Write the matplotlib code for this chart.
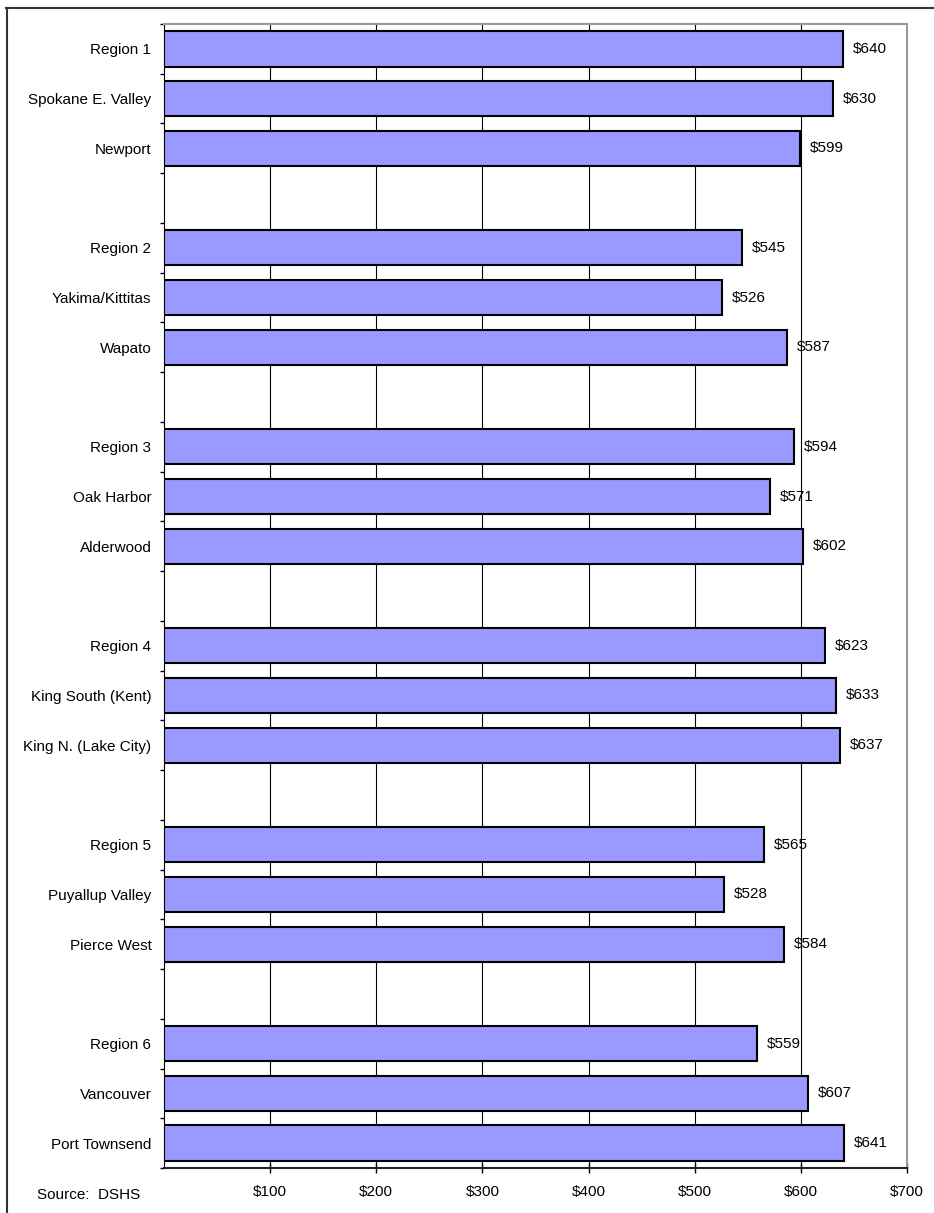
import matplotlib.pyplot as plt
from matplotlib.lines import Line2D

plt.rcParams['font.family'] = ['Liberation Sans', 'DejaVu Sans']

# datos ---------------------------------------------------------------------
labels = ["Region 1", "Spokane E. Valley", "Newport",
          "Region 2", "Yakima/Kittitas", "Wapato",
          "Region 3", "Oak Harbor", "Alderwood",
          "Region 4", "King South (Kent)", "King N. (Lake City)",
          "Region 5", "Puyallup Valley", "Pierce West",
          "Region 6", "Vancouver", "Port Townsend"]
values = [640, 630, 599,
          545, 526, 587,
          594, 571, 602,
          623, 633, 637,
          565, 528, 584,
          559, 607, 641]
xticks = [100, 200, 300, 400, 500, 600, 700]
xtick_labels = ["$100", "$200", "$300", "$400", "$500", "$600", "$700"]

# posiciones: 3 barras por grupo + un hueco entre grupos
pos = [(i // 3) * 4 + i % 3 for i in range(len(labels))]
n_slots = pos[-1] + 1

fig = plt.figure(figsize=(9.34, 12.13), dpi=100)
ax = fig.add_axes([164 / 934, 1 - 1168 / 1213, 743 / 934, 1144 / 1213])

ax.barh(pos, values, height=0.71, color="#9999FF", edgecolor="black",
        linewidth=1.5, zorder=3)

for p, v in zip(pos, values):
    ax.annotate(f"${v}", (v, p), xytext=(7, 0), textcoords="offset points",
                va="center", ha="left", fontsize=11, zorder=4)

ax.set_xlim(0, 700)
ax.set_ylim(n_slots - 0.5, -0.5)

ax.set_xticks(xticks)
ax.set_xticklabels(xtick_labels, fontsize=11)
ax.tick_params(axis="x", direction="inout", length=7, width=1, pad=9)
ax.xaxis.grid(True, color="black", linewidth=0.8, zorder=0)

ax.set_yticks(pos)
ax.set_yticklabels(labels, fontsize=11)
ax.tick_params(axis="y", length=0, pad=9)
ax.set_yticks([b - 0.5 for b in range(n_slots + 1)], minor=True)
ax.tick_params(axis="y", which="minor", direction="out", length=3, width=1)

ax.spines["left"].set_color("black")
ax.spines["bottom"].set_color("#222222")
ax.spines["bottom"].set_linewidth(1.5)
ax.spines["top"].set_color("#999999")
ax.spines["right"].set_color("#999999")
ax.spines["top"].set_linewidth(1.5)
ax.spines["right"].set_linewidth(1.5)

fig.text(37 / 934, 1 - 1195 / 1213, "Source:  DSHS", fontsize=11,
         ha="left", va="center")

# borde del grafico (arriba e izquierda)
fig.add_artist(Line2D([6 / 934, 1], [1 - 7.5 / 1213, 1 - 7.5 / 1213],
                      transform=fig.transFigure, color="#333333", linewidth=1.5))
fig.add_artist(Line2D([6.5 / 934, 6.5 / 934], [0, 1 - 7.5 / 1213],
                      transform=fig.transFigure, color="#333333", linewidth=1.5))

fig.savefig("out.png", dpi=100)
